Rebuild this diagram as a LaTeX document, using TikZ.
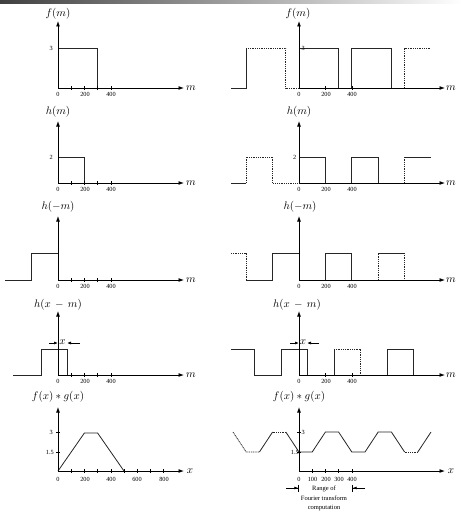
\documentclass[tikz,border=0pt]{standalone}
\usepackage{fontspec}
\setmainfont{Liberation Serif}
\usetikzlibrary{arrows.meta}
\begin{document}
\begin{tikzpicture}[x=1pt,y=-1pt,
  ax/.style={line width=0.9pt,-{Latex[length=5.5pt,width=4pt]}},
  sig/.style={line width=0.8pt,black!85,line join=miter},
  dsig/.style={sig,dash pattern=on 1pt off 0.8pt},
  tk/.style={line width=0.6pt},
  tl/.style={font=\fontsize{6.3}{7}\selectfont,inner sep=0pt},
  fl/.style={font=\fontsize{11}{12}\selectfont,inner sep=0pt},
  xl/.style={font=\fontsize{10.5}{11}\selectfont,inner sep=0pt},
  sarr/.style={line width=0.7pt,-{Latex[length=4pt,width=3pt]}},
  rarr/.style={line width=0.7pt,-{Latex[length=4pt,width=3pt]Bar[width=7pt,line width=0.7pt]}},
]
\useasboundingbox (0,0) rectangle (462,519);
\shade[left color=black!75,right color=white] (0,0) rectangle (462,4);

% ================= ROW 1 =================
% left
\draw[sig] (58,88) -- (58,48) -- (97.6,48) -- (97.6,88);
\foreach \t in {71.2,84.4,97.6,110.8} \draw[tk] (\t,86) -- (\t,90);
\coordinate (o1) at (58,88);
\coordinate (x1) at (184,88);
\coordinate (y1) at (58,21);
\draw[ax] (o1) -- (x1);
\draw[ax] (o1) -- (y1);
\node[fl] (f1) at (58,14) {$f(m)$};
\node[fl] (m1) at (191,88) {$m$};
\node[tl] (a10) at (58,94) {0};
\node[tl] (a12) at (85,94) {200};
\node[tl] (a14) at (111,94) {400};
\node[tl,anchor=east] (v1) at (53,48) {3};
% right
\draw[sig] (231,88) -- (246.2,88) -- (246.2,48);
\draw[dsig] (246.2,48) -- (285.8,48) -- (285.8,88) -- (299,88);
\draw[sig] (299,88) -- (299,48) -- (338.6,48) -- (338.6,88);
\draw[sig] (351.8,88) -- (351.8,48) -- (391.4,48) -- (391.4,88);
\draw[dsig] (404.6,88) -- (404.6,48) -- (431,48);
\foreach \t in {325.4,351.8} \draw[tk] (\t,86) -- (\t,90);
\coordinate (O1) at (299,88);
\coordinate (X1) at (445,88);
\coordinate (Y1) at (299,21);
\draw[ax] (O1) -- (X1);
\draw[ax] (O1) -- (Y1);
\node[fl] (F1) at (298,14) {$f(m)$};
\node[fl] (M1) at (451,88) {$m$};
\node[tl] (b10) at (299,94) {0};
\node[tl] (b12) at (326,94) {200};
\node[tl] (b14) at (352,94) {400};
\node[tl,anchor=west] (V1) at (301.5,48) {3};

% ================= ROW 2 =================
% left
\draw[sig] (58,183) -- (58,157) -- (84.4,157) -- (84.4,183);
\foreach \t in {71.2,84.4,97.6,110.8} \draw[tk] (\t,181) -- (\t,185);
\coordinate (o2) at (58,183);
\coordinate (x2) at (184,183);
\coordinate (y2) at (58,121);
\draw[ax] (o2) -- (x2);
\draw[ax] (o2) -- (y2);
\node[fl] (f2) at (58,112) {$h(m)$};
\node[fl] (m2) at (191,183) {$m$};
\node[tl] (a20) at (58,189) {0};
\node[tl] (a22) at (85,189) {200};
\node[tl] (a24) at (111,189) {400};
\node[tl,anchor=east] (v2) at (53,157) {2};
% right
\draw[sig] (231,183) -- (246.2,183);
\draw[dsig] (246.2,183) -- (246.2,157) -- (272.6,157) -- (272.6,183) -- (299,183);
\draw[sig] (299,183) -- (299,157) -- (325.4,157) -- (325.4,183);
\draw[sig] (351.8,183) -- (351.8,157) -- (378.2,157) -- (378.2,183);
\draw[dsig] (404.6,183) -- (404.6,157);
\draw[sig] (404.6,157) -- (431,157);
\coordinate (O2) at (299,183);
\coordinate (X2) at (445,183);
\coordinate (Y2) at (299,121);
\draw[ax] (O2) -- (X2);
\draw[ax] (O2) -- (Y2);
\node[fl] (F2) at (299,112) {$h(m)$};
\node[fl] (M2) at (451,183) {$m$};
\node[tl] (b20) at (299,189) {0};
\node[tl] (b22) at (326,189) {200};
\node[tl] (b24) at (352,189) {400};
\node[tl,anchor=east] (V2) at (296.5,157) {2};

% ================= ROW 3 =================
% left
\draw[sig] (5,280) -- (31.6,280) -- (31.6,253) -- (58,253) -- (58,280);
\foreach \t in {71.2,84.4,97.6,110.8} \draw[tk] (\t,278) -- (\t,282);
\coordinate (o3) at (58,280);
\coordinate (x3) at (184,280);
\coordinate (y3) at (58,216);
\draw[ax] (o3) -- (x3);
\draw[ax] (o3) -- (y3);
\node[fl] (f3) at (58,207) {$h(-m)$};
\node[fl] (m3) at (191,280) {$m$};
\node[tl] (a30) at (58,286) {0};
\node[tl] (a32) at (85,286) {200};
\node[tl] (a34) at (111,286) {400};
% right
\draw[dsig] (231,253) -- (246.2,253) -- (246.2,280);
\draw[sig] (246.2,280) -- (272.6,280) -- (272.6,253) -- (299,253);
\draw[sig] (325.4,280) -- (325.4,253) -- (351.8,253) -- (351.8,280);
\draw[dsig] (378.2,280) -- (378.2,253);
\draw[sig] (378.2,253) -- (404.6,253);
\draw[dsig] (404.6,253) -- (404.6,280);
\coordinate (O3) at (299,280);
\coordinate (X3) at (445,280);
\coordinate (Y3) at (299,216);
\draw[ax] (O3) -- (X3);
\draw[ax] (O3) -- (Y3);
\node[fl] (F3) at (300,207) {$h(-m)$};
\node[fl] (M3) at (451,280) {$m$};
\node[tl] (b30) at (299,286) {0};
\node[tl] (b32) at (326,286) {200};
\node[tl] (b34) at (352,286) {400};

% ================= ROW 4 =================
% left
\draw[sig] (13,375) -- (41,375) -- (41,349) -- (67,349) -- (67,375);
\foreach \t in {71.2,84.4,97.6,110.8} \draw[tk] (\t,373) -- (\t,377);
\coordinate (o4) at (58,375);
\coordinate (x4) at (184,375);
\coordinate (y4) at (58,311);
\draw[ax] (o4) -- (x4);
\draw[ax] (o4) -- (y4);
\node[fl] (f4) at (58,305) {$h(x\,-\,m)$};
\node[fl] (m4) at (191,375) {$m$};
\node[tl] (a40) at (58,381) {0};
\node[tl] (a42) at (85,381) {200};
\node[tl] (a44) at (111,381) {400};
\coordinate (p4a) at (49,343);
\coordinate (p4b) at (58,343);
\coordinate (p4c) at (80,343);
\coordinate (p4d) at (67,343);
\draw[sarr] (p4a) -- (p4b);
\draw[sarr] (p4c) -- (p4d);
\node[xl] (xx4) at (62.5,342.5) {$x$};
% right
\draw[sig] (231,349) -- (254,349) -- (254,375) -- (281,375) -- (281,349) -- (307,349) -- (307,375);
\draw[sig] (334,375) -- (334,349);
\draw[dsig] (334,349) -- (360,349) -- (360,375);
\draw[sig] (387,375) -- (387,349) -- (413,349) -- (413,375);
\foreach \t in {325.4,351.8} \draw[tk] (\t,373) -- (\t,377);
\coordinate (O4) at (299,375);
\coordinate (X4) at (445,375);
\coordinate (Y4) at (299,311);
\draw[ax] (O4) -- (X4);
\draw[ax] (O4) -- (Y4);
\node[fl] (F4) at (297,305) {$h(x\,-\,m)$};
\node[fl] (M4) at (451,375) {$m$};
\node[tl] (b40) at (299,381) {0};
\node[tl] (b42) at (326,381) {200};
\node[tl] (b44) at (352,381) {400};
\coordinate (q4a) at (290,343);
\coordinate (q4b) at (299,343);
\coordinate (q4c) at (319,343);
\coordinate (q4d) at (307,343);
\draw[sarr] (q4a) -- (q4b);
\draw[sarr] (q4c) -- (q4d);
\node[xl] (XX4) at (303,342.5) {$x$};

% ================= ROW 5 =================
% left
\draw[sig] (58,471) -- (84.4,433) -- (97.6,433) -- (124,471);
\foreach \t in {71.2,84.4,97.6,110.8,124,137.2,150.4,163.6} \draw[tk] (\t,469) -- (\t,473);
\foreach \v in {432,452} \draw[tk] (56,\v) -- (60,\v);
\coordinate (o5) at (58,471);
\coordinate (x5) at (184,471);
\coordinate (y5) at (58,407);
\draw[ax] (o5) -- (x5);
\draw[ax] (o5) -- (y5);
\node[fl] (f5) at (58,397) {$f(x)*g(x)$};
\node[fl] (m5) at (190,471) {$x$};
\node[tl] (a50) at (58,479) {0};
\node[tl] (a52) at (85,479) {200};
\node[tl] (a54) at (111,479) {400};
\node[tl] (a56) at (137,479) {600};
\node[tl] (a58) at (164,479) {800};
\node[tl,anchor=east] (v53) at (53,432) {3};
\node[tl,anchor=east] (v515) at (54,452) {1.5};
% right
\draw[dsig] (233,432) -- (246.2,452) -- (259.4,452);
\draw[sig] (259.4,452) -- (272.6,432);
\draw[dsig] (272.6,432) -- (285.8,432);
\draw[sig] (285.8,432) -- (299,452) -- (312.2,452) -- (325.4,432) -- (338.6,432) -- (351.8,452)
  -- (365,452) -- (378.2,432) -- (391.4,432) -- (404.6,452);
\draw[dsig] (404.6,452) -- (417.8,452);
\draw[sig] (417.8,452) -- (431,432);
\foreach \t in {312.2,325.4,338.6,351.8} \draw[tk] (\t,469) -- (\t,473);
\foreach \v in {432,452} \draw[tk] (297,\v) -- (301,\v);
\coordinate (O5) at (299,471);
\coordinate (X5) at (445,471);
\coordinate (Y5) at (299,407);
\draw[ax] (O5) -- (X5);
\draw[ax] (O5) -- (Y5);
\node[fl] (F5) at (299,397) {$f(x)*g(x)$};
\node[fl] (M5) at (451,471) {$x$};
\node[tl] (b50) at (299,479) {0};
\node[tl] (b51) at (312.5,479) {100};
\node[tl] (b52) at (326,479) {200};
\node[tl] (b53) at (339,479) {300};
\node[tl] (b54) at (352,479) {400};
\node[tl,anchor=west] (V53) at (301.5,432) {3};
\node[tl,anchor=east] (V515) at (299,452) {1.5};
\coordinate (r1) at (286,488);
\coordinate (r2) at (299,488);
\coordinate (r3) at (365,488);
\coordinate (r4) at (352,488);
\draw[rarr] (r1) -- (r2);
\draw[rarr] (r3) -- (r4);
\node[font=\fontsize{6.5}{9.3}\selectfont,align=center,inner sep=0pt] (rng) at (324,498.5)
  {Range of\\Fourier transform\\computation};
\end{tikzpicture}
\end{document}
